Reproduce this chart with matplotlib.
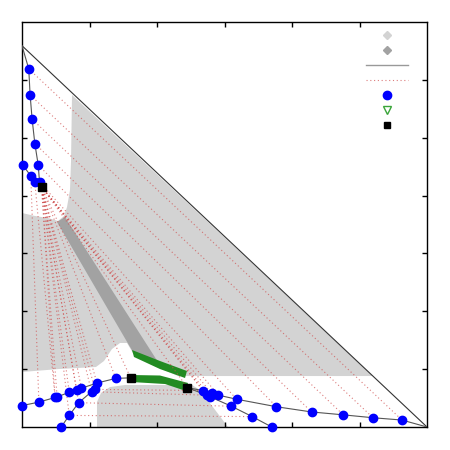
import matplotlib
matplotlib.use("Agg")
import matplotlib.pyplot as plt
from matplotlib.patches import Polygon
from matplotlib.lines import Line2D

# ---- data ----
hyp_x = [0.0, 0.6]
hyp_y = [0.659, 0.0]

chainA_x = [0.000, 0.010, 0.012, 0.015, 0.019, 0.024, 0.026, 0.029]
chainA_y = [0.659, 0.619, 0.574, 0.532, 0.490, 0.453, 0.423, 0.415]
chainB_x = [0.001, 0.013, 0.019, 0.029]
chainB_y = [0.453, 0.434, 0.423, 0.415]
chainC1_x = [0.000, 0.025, 0.049, 0.052, 0.070, 0.081, 0.088, 0.111, 0.139, 0.161]
chainC1_y = [0.037, 0.043, 0.051, 0.052, 0.060, 0.064, 0.067, 0.076, 0.084, 0.085]
chainC2_x = [0.245, 0.268, 0.281, 0.291, 0.318, 0.377, 0.429, 0.476, 0.520, 0.563, 0.600]
chainC2_y = [0.068, 0.063, 0.058, 0.055, 0.048, 0.035, 0.026, 0.021, 0.016, 0.012, 0.000]
chainD1_x = [0.058, 0.070, 0.084, 0.103, 0.108, 0.111]
chainD1_y = [0.000, 0.020, 0.042, 0.061, 0.065, 0.076]
chainD2_x = [0.245, 0.274, 0.279, 0.310, 0.341, 0.370]
chainD2_y = [0.068, 0.055, 0.052, 0.036, 0.018, 0.000]

crit_x = [0.029, 0.161, 0.245]
crit_y = [0.415, 0.085, 0.068]

# tie lines: (x1, y1) -> (x2, y2)
tie_x1 = [0.010, 0.012, 0.015, 0.019, 0.024, 0.026,
          0.029, 0.029, 0.029, 0.029, 0.029, 0.029, 0.029, 0.029, 0.029, 0.029, 0.029, 0.029,
          0.029, 0.029, 0.029, 0.029, 0.029, 0.029,
          0.013, 0.019,
          0.108, 0.103, 0.084, 0.070]
tie_y1 = [0.619, 0.574, 0.532, 0.490, 0.453, 0.423,
          0.415, 0.415, 0.415, 0.415, 0.415, 0.415, 0.415, 0.415, 0.415, 0.415, 0.415, 0.415,
          0.415, 0.415, 0.415, 0.415, 0.415, 0.415,
          0.434, 0.423,
          0.065, 0.061, 0.042, 0.020]
tie_x2 = [0.563, 0.520, 0.476, 0.429, 0.377, 0.318,
          0.049, 0.052, 0.070, 0.081, 0.088, 0.111, 0.139, 0.161, 0.245, 0.268, 0.281, 0.291,
          0.070, 0.084, 0.103, 0.108, 0.274, 0.279,
          0.025, 0.049,
          0.268, 0.274, 0.310, 0.341]
tie_y2 = [0.012, 0.016, 0.021, 0.026, 0.035, 0.048,
          0.051, 0.052, 0.060, 0.064, 0.067, 0.076, 0.084, 0.085, 0.068, 0.063, 0.058, 0.055,
          0.020, 0.042, 0.061, 0.065, 0.055, 0.052,
          0.043, 0.051,
          0.063, 0.055, 0.036, 0.018]

# shaded regions
light_x = [0.0741, 0.5200, 0.2311, 0.1896, 0.1644, 0.1556, 0.1452, 0.1333, 0.1215, 0.1096,
           0.0563, 0.0, 0.0, 0.0193, 0.0385, 0.0533, 0.0622, 0.0667, 0.0711, 0.0726]
light_y = [0.5738, 0.0881, 0.0881, 0.1089, 0.1279, 0.1452, 0.1452, 0.1348, 0.1141, 0.1037,
           0.1003, 0.0951, 0.3699, 0.3647, 0.3612, 0.3561, 0.3647, 0.3802, 0.4096, 0.4580]
blob_x = [0.1111, 0.1111, 0.1170, 0.1304, 0.1526, 0.2519, 0.2637, 0.3052]
blob_y = [0.0, 0.0432, 0.0588, 0.0691, 0.0726, 0.0726, 0.0640, 0.0]
dark_x = [0.0519, 0.0637, 0.2015, 0.1644]
dark_y = [0.3543, 0.3630, 0.1123, 0.1296]
green1_x = [0.1630, 0.2044, 0.2444, 0.2415, 0.2044, 0.1659]
green1_y = [0.1331, 0.1141, 0.0968, 0.0847, 0.1002, 0.1210]
green2_x = [0.1615, 0.2044, 0.2459, 0.2430, 0.2119, 0.1615]
green2_y = [0.0899, 0.0890, 0.0761, 0.0622, 0.0743, 0.0778]

# ---- figure ----
fig = plt.figure(figsize=(4.5, 4.5), dpi=100)
ax = fig.add_axes([22 / 450, 23 / 450, 405 / 450, 405 / 450])

LIGHT = "#d3d3d3"
DARK = "#a2a2a2"
GREEN = "#228b22"

ax.add_patch(Polygon(list(zip(light_x, light_y)), closed=True, fc=LIGHT, ec="none", zorder=1))
ax.add_patch(Polygon(list(zip(blob_x, blob_y)), closed=True, fc=LIGHT, ec="none", zorder=1))
ax.add_patch(Polygon(list(zip(dark_x, dark_y)), closed=True, fc=DARK, ec="none", zorder=1.5))
ax.add_patch(Polygon(list(zip(green1_x, green1_y)), closed=True, fc=GREEN, ec="none", zorder=2))
ax.add_patch(Polygon(list(zip(green2_x, green2_y)), closed=True, fc=GREEN, ec="none", zorder=2))

tie_color = "#d05050"
for x1, y1, x2, y2 in zip(tie_x1, tie_y1, tie_x2, tie_y2):
    ax.plot([x1, x2], [y1, y2], color=tie_color, lw=0.8, ls=(0, (1, 2.4)), alpha=0.75, zorder=3)

ax.plot(hyp_x, hyp_y, color="#333333", lw=0.8, zorder=4)

line_color = "#555555"
for cx, cy in [(chainA_x, chainA_y), (chainB_x, chainB_y), (chainC1_x, chainC1_y),
               (chainC2_x, chainC2_y), (chainD1_x, chainD1_y), (chainD2_x, chainD2_y)]:
    ax.plot(cx, cy, color=line_color, lw=0.8, zorder=4)

mk = dict(ls="none", marker="o", color="blue", ms=6, zorder=5, clip_on=False)
ax.plot(chainA_x[1:-1], chainA_y[1:-1], **mk)
ax.plot(chainB_x[:-1], chainB_y[:-1], **mk)
ax.plot(chainC1_x[:-1], chainC1_y[:-1], **mk)
ax.plot(chainC2_x[1:-1], chainC2_y[1:-1], **mk)
ax.plot(chainD1_x[:-1], chainD1_y[:-1], **mk)
ax.plot(chainD2_x[1:], chainD2_y[1:], **mk)

ax.plot(crit_x, crit_y, ls="none", marker="s", color="black", ms=6, zorder=6, clip_on=False)

ax.set_xlim(0, 0.6)
ax.set_ylim(0, 0.7)
ax.set_xticks([0.1, 0.2, 0.3, 0.4, 0.5])
ax.set_yticks([0.1, 0.2, 0.3, 0.4, 0.5, 0.6])
ax.tick_params(direction="in", length=3.5, width=1, top=True, right=True,
               labelbottom=False, labelleft=False)
for s in ax.spines.values():
    s.set_linewidth(1)

handles = [
    Line2D([], [], ls="none", marker="D", color=LIGHT, ms=4.5),
    Line2D([], [], ls="none", marker="D", color=DARK, ms=4.5),
    Line2D([], [], color="#999999", lw=1),
    Line2D([], [], color=tie_color, lw=0.8, ls=(0, (1, 2.4)), alpha=0.75),
    Line2D([], [], ls="none", marker="o", color="blue", ms=6),
    Line2D([], [], ls="none", marker="v", mfc="none", mec="#3aa53a", ms=6),
    Line2D([], [], ls="none", marker="s", color="black", ms=5),
]
ax.legend(handles, [""] * len(handles), loc="upper left", bbox_to_anchor=(0.84, 0.99),
          borderaxespad=0, frameon=False, fontsize=7.2, handlelength=4.2, handletextpad=0)

fig.savefig("out.png", dpi=100)
